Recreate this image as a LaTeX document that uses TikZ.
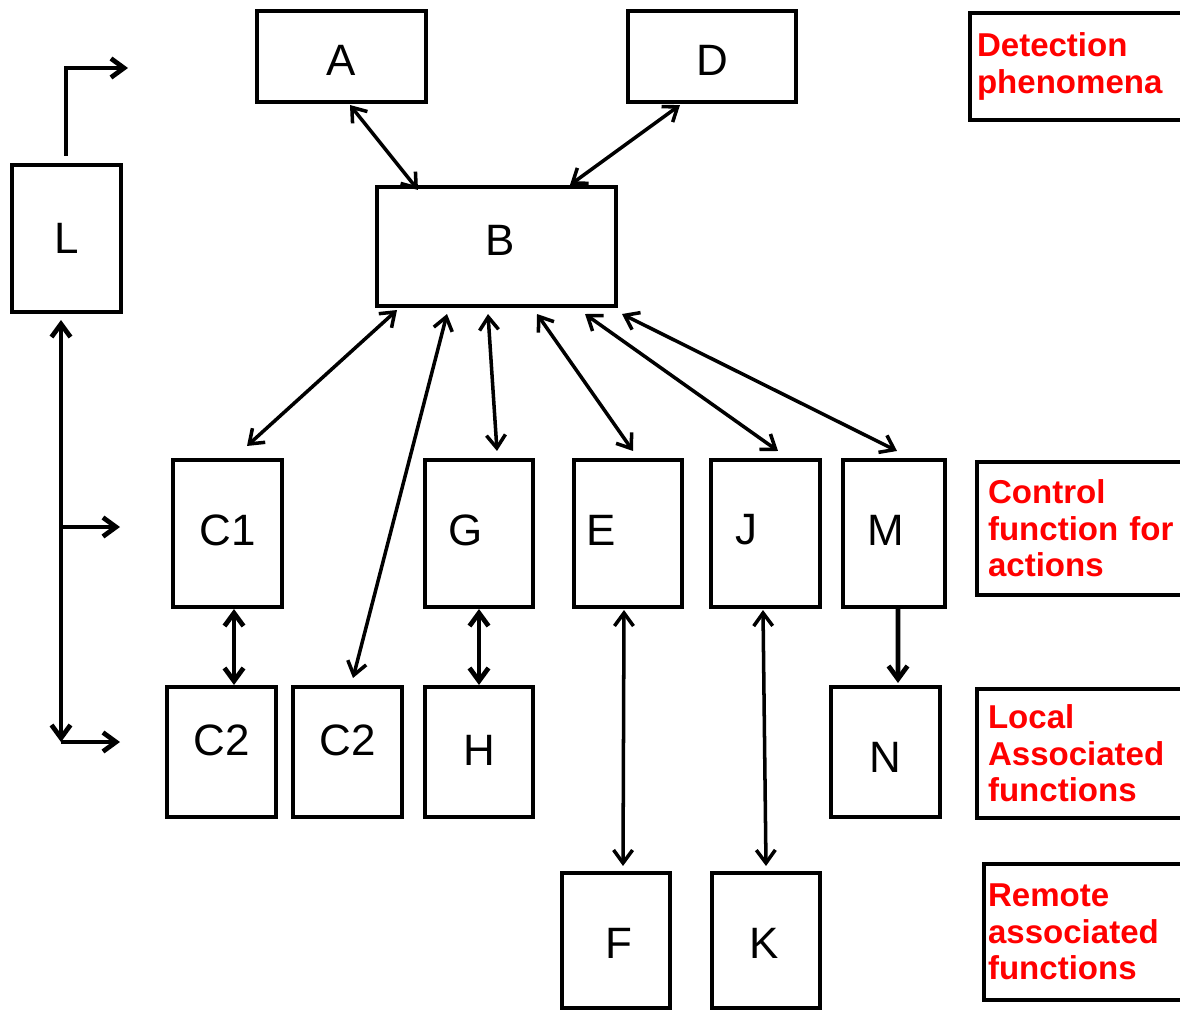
\documentclass[tikz,border=0pt]{standalone}
\usepackage{fontspec}
\setmainfont{Liberation Sans}
\usetikzlibrary{arrows.meta,positioning,calc}

\tikzset{
  >={Straight Barb[length=1.3mm,width=1.9mm]},
  blk/.style={draw, line width=1.15pt, inner sep=0pt, minimum width=10.9mm, minimum height=14.7mm},
  txt/.style={font=\fontsize{12.5}{15}\selectfont},
  lvl/.style={draw, line width=1.15pt, anchor=north west, text=red, align=left, text width=26mm,
    font=\bfseries\fontsize{9.4}{10.4}\selectfont},
  lnk/.style={line width=1pt, <->},
  fat/.style={line width=1.35pt},
}

\begin{document}
\begin{tikzpicture}[x=0.1mm, y=0.1mm]
    \useasboundingbox (0,0) rectangle (1180,-1010);

    % top row
    \node[blk, minimum width=16.9mm, minimum height=9.1mm, label={[txt,yshift=-0.35mm]center:A}] (A) at (341.5,-56.5) {};
    \node[blk, minimum width=16.8mm, minimum height=9.1mm, label={[txt,yshift=-0.35mm]center:D}] (D) at (712,-56.5) {};
    \node[blk, minimum width=23.9mm, minimum height=11.9mm, label={[txt,xshift=0.35mm,yshift=0.65mm]center:B}] (B) at (496.5,-246.5) {};
    \node[blk, label={[txt]center:L}] (L) at (66.5,-238.5) {};

    % control functions
    \node[blk, label={[txt,yshift=0.35mm]center:C1}] (C1) at (227.5,-533.5) {};
    \node[blk, minimum width=10.8mm, label={[txt,xshift=-1.3mm,yshift=0.35mm]center:G}] (G) at (479,-533.5) {};
    \node[blk, minimum width=10.8mm, label={[txt,xshift=-2.7mm,yshift=0.35mm]center:E}] (E) at (628,-533.5) {};
    \node[blk, label={[txt,xshift=-1.95mm,yshift=0.35mm]center:J}] (J) at (765.5,-533.5) {};
    \node[blk, minimum width=10.2mm, label={[txt,xshift=-0.8mm,yshift=0.35mm]center:M}] (M) at (894,-533.5) {};

    % local functions
    \node[blk, minimum height=13mm, label={[txt,yshift=1.2mm]center:C2}] (C2a) at (221.5,-752) {};
    \node[blk, minimum height=13mm, label={[txt,yshift=1.2mm]center:C2}] (C2b) at (347.5,-752) {};
    \node[blk, minimum width=10.8mm, minimum height=13mm, label={[txt,yshift=0.2mm]center:H}] (H) at (479,-752) {};
    \node[blk, minimum height=13mm, label={[txt,yshift=-0.5mm]center:N}] (N) at (885.5,-752) {};

    % remote functions
    \node[blk, minimum width=10.8mm, minimum height=13.5mm, label={[txt,xshift=0.3mm,yshift=-0.25mm]center:F}] (F) at (616,-940.5) {};
    \node[blk, minimum width=10.8mm, minimum height=13.5mm, label={[txt,xshift=-0.2mm,yshift=-0.25mm]center:K}] (K) at (766,-940.5) {};

    % level captions
    \node[lvl, minimum height=10.7mm, inner xsep=0.7mm] (detect) at (968,-11) {Detection\\phenomena};
    \node[lvl, minimum height=13.3mm, inner xsep=1.1mm] (control) at (975,-460) {Control\\function for\\actions};
    \node[lvl, minimum height=12.9mm, inner xsep=1.1mm] (local) at (975,-687) {Local\\Associated\\functions};
    \node[lvl, minimum height=13.6mm, inner xsep=0.4mm] (remote) at (982,-862) {Remote\\associated\\functions};

    % links to B
    \draw[lnk] ($(A.south)+(8.5,-1)$) -- ($(B.north)+(-78.5,-5)$);
    \draw[lnk] ($(D.south)+(-32,-1)$) -- ($(B.north)+(73.5,0)$);
    \draw[lnk] ($(B.south)+(-99.5,-2)$) -- ($(C1.north)+(19.5,12)$);
    \draw[lnk] ($(B.south)+(-49.5,-6)$) -- ($(C2b.north)+(5.5,7)$);
    \draw[lnk] ($(B.south)+(-8.5,-6)$) -- ($(G.north)+(18,7)$);
    \draw[lnk] ($(B.south)+(40.5,-6)$) -- ($(E.north)+(5,7)$);
    \draw[lnk] ($(B.south)+(88.5,-6)$) -- ($(J.north)+(12.5,7)$);
    \draw[lnk] ($(B.south)+(125.5,-6)$) -- ($(M.north)+(3,7)$);

    % lower links
    \draw[lnk, fat] ($(C1.south)+(6.5,0)$) -- ($(C2a.north)+(12.5,0)$);
    \draw[lnk, fat] (G) -- (H);
    \draw[lnk] ($(E.south)+(-4,-1)$) -- ($(F.north)+(7,5)$);
    \draw[lnk] ($(J.south)+(-2.5,-1)$) -- ($(K.north)+(0,5)$);
    \draw[fat, ->] ($(M.south)+(4,0)$) -- ($(N.north)+(12.5,2)$);

    % L bus
    \coordinate (Lout) at (128,-68);
    \coordinate (Lend) at (61,-742);
    \coordinate (Cin) at (120,-527);
    \coordinate (C2in) at (120,-742);
    \draw[fat, ->] ($(L.north)+(-0.5,7)$) |- (Lout);
    \draw[fat, <->] ($(L.south)+(-5.5,-6)$) -- (Lend);
    \draw[fat, ->] (Lend) -- (C2in);
    \draw[fat, ->] (Lend |- Cin) -- (Cin);
\end{tikzpicture}
\end{document}
